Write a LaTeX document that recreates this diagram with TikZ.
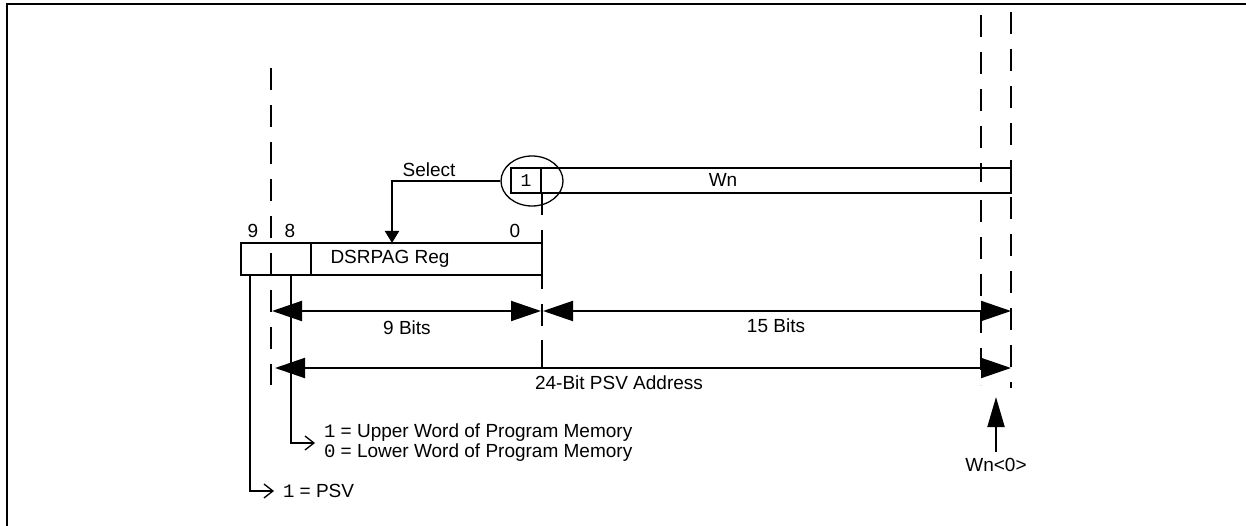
\documentclass[tikz,border=0pt]{standalone}
\usepackage{fontspec}
\setmainfont{Liberation Sans}
\newfontfamily\monofont{Liberation Mono}
\usetikzlibrary{arrows.meta,shapes.geometric}
\begin{document}
\begin{tikzpicture}[x=1pt,y=-1pt, line width=2pt,
  lbl/.style={font=\fontsize{19}{22}\selectfont, inner sep=0},
  regbox/.style={draw, line width=2pt, inner sep=0, outer sep=0, anchor=north west},
  guide/.style={dash pattern=on 22pt off 15pt, line width=2pt},
  dimarrow/.style={{Triangle[length=30pt,width=20pt]}-{Triangle[length=30pt,width=20pt]}},
  barb/.style={-{Straight Barb[length=9pt,width=14pt,line width=1.3pt]}}
]
\useasboundingbox (0,0) rectangle (1246,526);
% frame
\coordinate (fbl) at (7,526); \coordinate (ftl) at (7,4); \coordinate (ftr) at (1246,4);
\draw[line width=2.5pt] (fbl) -- (ftl) -- (ftr);

% guide lines
\coordinate (g1t) at (271,68);  \coordinate (g1b) at (271,385);
\coordinate (g2t) at (542,193); \coordinate (g2b) at (542,340); \coordinate (g2e) at (542,368);
\coordinate (g3t) at (981,15);  \coordinate (g3b) at (981,385);
\coordinate (g4t) at (1011,12); \coordinate (g4b) at (1011,388);
\draw[guide] (g1t) -- (g1b);
\draw[guide] (g2t) -- (g2b);
\draw (g2b) -- (g2e);
\draw[guide] (g3t) -- (g3b);
\draw[guide] (g4t) -- (g4b);

% Wn register
\node[regbox, fill=white, minimum width=500pt, minimum height=25pt] (wn) at (511,168) {};
\coordinate (wnd1) at (541,168); \coordinate (wnd2) at (541,193);
\draw (wnd1) -- (wnd2);
\draw[guide, dash phase=8pt] (981,168) -- (981,193);
\node[lbl, font=\fontsize{18}{20}\monofont] (one) at (526,181) {1};
\node[lbl] (wnlbl) at (723,180) {Wn};
\node[draw, ellipse, line width=1.3pt, minimum width=62pt, minimum height=50pt, inner sep=0] (circ) at (532,181) {};

% DSRPAG register
\node[regbox, minimum width=301pt, minimum height=32pt] (dsr) at (241,243) {};
\coordinate (dd1) at (311,243); \coordinate (dd2) at (311,275);
\draw (dd1) -- (dd2);
\node[lbl] (dsrlbl) at (390,259) {DSRPAG Reg};
\node[lbl] (b9) at (253,231) {9};
\node[lbl] (b8) at (290,231) {8};
\node[lbl] (b0) at (515,231) {0};

% select
\coordinate (selend) at (392,243);
\draw[-{Triangle[length=12pt,width=14pt]}] (circ.west) -| (selend);
\node[lbl] (sel) at (429,170) {Select};

% dimension arrows
\coordinate (a9l) at (272,311); \coordinate (a9r) at (541,311);
\coordinate (a15l) at (543,311); \coordinate (a15r) at (1011,311);
\coordinate (a24l) at (275,368); \coordinate (a24r) at (1011,368);
\draw[dimarrow] (a9l) -- (a9r);
\draw[dimarrow] (a15l) -- (a15r);
\draw[dimarrow] (a24l) -- (a24r);
\node[lbl] (t9) at (407,328) {9 Bits};
\node[lbl] (t15) at (776,326) {15 Bits};
\node[lbl] (t24) at (619,383) {24-Bit PSV Address};

% bit 8 / bit 9 outputs
\coordinate (p8a) at (291,275); \coordinate (p8b) at (315,443);
\coordinate (p9a) at (250,275); \coordinate (p9b) at (274,491);
\draw[barb] (p8a) |- (p8b);
\draw[barb] (p9a) |- (p9b);
\node[lbl, anchor=west] (u1) at (323,433) {{\monofont 1} = Upper Word of Program Memory};
\node[lbl, anchor=west] (u0) at (323,453) {{\monofont 0} = Lower Word of Program Memory};
\node[lbl, anchor=west] (psv) at (282,491) {{\monofont 1} = PSV};

% Wn<0>
\coordinate (w0t) at (996,397); \coordinate (w0b) at (996,452);
\draw[-{Triangle[length=30pt,width=17pt]}] (w0b) -- (w0t);
\node[lbl] (w0) at (996,465) {Wn<0>};
\end{tikzpicture}
\end{document}
